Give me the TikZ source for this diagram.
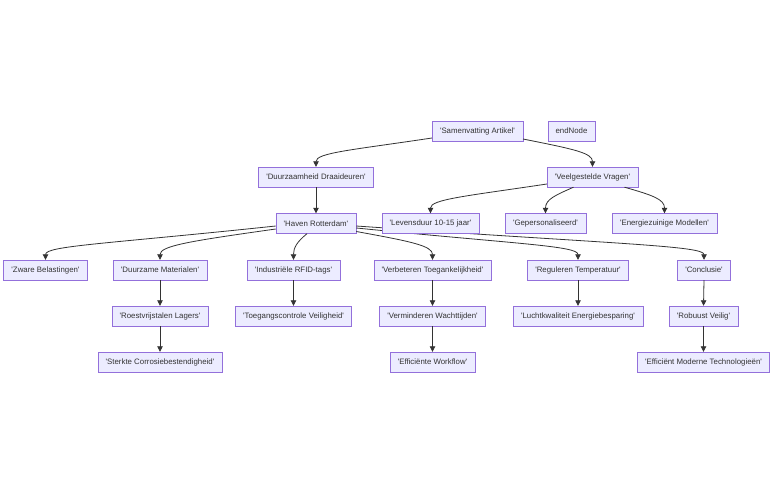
\documentclass[tikz,border=0pt]{standalone}
\usepackage{fontspec}
\setmainfont{Liberation Sans}[Ligatures=TeXOff]
\usetikzlibrary{arrows.meta}
\definecolor{boxfill}{HTML}{ECECFF}
\definecolor{boxline}{HTML}{9370DB}
\definecolor{ink}{HTML}{333333}
\tikzset{
    box/.style={draw=boxline,fill=boxfill,text=ink,minimum height=20pt,inner xsep=7.8pt,inner ysep=0pt,font=\fontsize{7.85}{9}\selectfont},
    link/.style={draw=ink,line width=0.8pt,-{Triangle[width=5.5pt,length=5.5pt]}},
}
\begin{document}
\begin{tikzpicture}[x=1pt,y=-1pt]
            \useasboundingbox (0,0) rectangle (784,494);
            \node[box] (sam) at (477.5,131){'Samenvatting Artikel'};
            \node[box] (endn) at (571.5,131){endNode};
            \node[box] (dur) at (316,177){'Duurzaamheid Draaideuren'};
            \node[box] (vra) at (592.5,177){'Veelgestelde Vragen'};
            \node[box] (hav) at (316,223.5){'Haven Rotterdam'};
            \node[box] (zwa) at (45.5,270){'Zware Belastingen'};
            \node[box] (mat) at (160,270){'Duurzame Materialen'};
            \node[box] (rfid) at (293.5,270){'Industriële RFID-tags'};
            \node[box] (toe) at (432.5,270){'Verbeteren Toegankelijkheid'};
            \node[box] (tem) at (578,270){'Reguleren Temperatuur'};
            \node[box] (con) at (704,270){'Conclusie'};
            \node[box] (roe) at (160,316){'Roestvrijstalen Lagers'};
            \node[box] (tgc) at (293.5,316){'Toegangscontrole Veiligheid'};
            \node[box] (wac) at (432.5,316){'Verminderen Wachttijden'};
            \node[box] (lucht) at (578,316){'Luchtkwaliteit Energiebesparing'};
            \node[box] (rob) at (703.5,316){'Robuust Veilig'};
            \node[box] (ste) at (160,362){'Sterkte Corrosiebestendigheid'};
            \node[box] (wor) at (432.5,362){'Efficiënte Workflow'};
            \node[box] (tech) at (703.5,362){'Efficiënt Moderne Technologieën'};
            % long links run behind the third row
            \draw[link] ([yshift=-4.5pt]hav.east) .. controls +(160,16) and +(0,-14) .. (tem.north);
            \draw[link] ([yshift=-2.5pt]hav.east) .. controls +(260,18) and +(0,-14) .. (con.north);
            \node[box] (lev) at (430.5,223.5){'Levensduur 10-15 jaar'};
            \node[box] (gep) at (545.5,223.5){'Gepersonaliseerd'};
            \node[box] (ene) at (664.5,223.5){'Energiezuinige Modellen'};
            \draw[link] ([yshift=-7pt]sam.west) .. controls +(-80,12) and +(0,-14) .. (dur.north);
            \draw[link] ([yshift=-8pt]sam.east) .. controls +(50,10) and +(0,-14) .. (vra.north);
            \draw[link] (dur.south)--(hav.north);
            \draw[link] ([yshift=-7pt]vra.west) .. controls +(-80,12) and +(0,-14) .. (lev.north);
            \draw[link] ([xshift=-19pt]vra.south) .. controls +(-18,8) and +(0,-14) .. (gep.north);
            \draw[link] ([xshift=32pt]vra.south) .. controls +(28,8) and +(0,-14) .. (ene.north);
            \draw[link] ([yshift=-2.5pt]hav.west) .. controls +(-170,18) and +(0,-14) .. (zwa.north);
            \draw[link] ([yshift=-5.5pt]hav.west) .. controls +(-85,12) and +(0,-14) .. (mat.north);
            \draw[link] ([xshift=-9pt]hav.south) .. controls +(-10,8) and +(0,-12) .. (rfid.north);
            \draw[link] ([yshift=-8pt]hav.east) .. controls +(55,10) and +(0,-14) .. (toe.north);
            \draw[link] (mat.south)--(roe.north);
            \draw[link] (roe.south)--(ste.north);
            \draw[link] (rfid.south)--(tgc.north);
            \draw[link] (toe.south)--(wac.north);
            \draw[link] (wac.south)--(wor.north);
            \draw[link] (tem.south)--(lucht.north);
            \draw[link] (con.south)--(rob.north);
            \draw[link] (rob.south)--(tech.north);
        \end{tikzpicture}
\end{document}
